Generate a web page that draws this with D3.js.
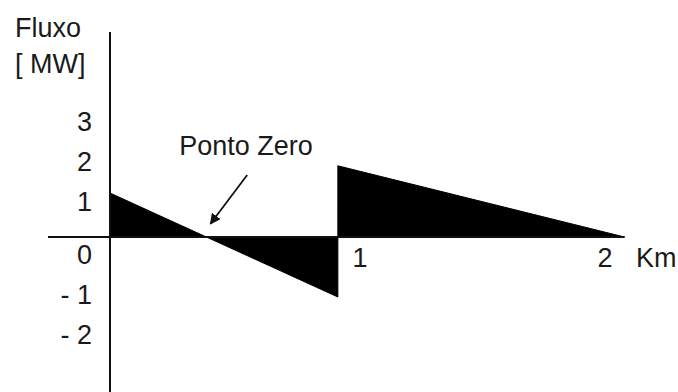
<!DOCTYPE html>
<html>
<head>
<meta charset="utf-8">
<script src="https://cdn.jsdelivr.net/npm/d3@7"></script>
<style>
  body { margin: 0; background: #fff; }
  svg text { font-family: "Liberation Sans", Arial, sans-serif; font-size: 27px; fill: #1a1a1a; }
</style>
</head>
<body>
<svg width="678" height="392"></svg>
<script>
// flow profile along the line (km, MW)
const segA = [[0, 1.1], [0.93, -1.5]];
const segB = [[0.93, 1.78], [2.1, 0]];

const yTicks = [3, 2, 1, 0, -1, -2];
const yTickLabels = ["3", "2", "1", "0", "- 1", "- 2"];
const xTicks = [1, 2];
const xTickLabels = ["1", "2"];

const zeroPoint = [0.41, 0.33];   // where the arrow points
const zeroLabelAt = [0.56, 1.55]; // arrow tail

const svg = d3.select('svg');

const x = d3.scaleLinear().domain([0, 2]).range([110, 600]);
const y = d3.scaleLinear().domain([0, 1]).range([237, 197]);

// filled areas between the flow line and the axis
const area = d3.area()
    .x(d => x(d[0]))
    .y0(y(0))
    .y1(d => y(d[1]));

svg.selectAll('path.flow')
    .data([segA, segB])
    .enter()
    .append('path')
    .attr('class', 'flow')
    .attr('d', area)
    .attr('fill', '#000')
    .attr('stroke', '#000')
    .attr('stroke-width', 1);

// axes
svg.append('line')
    .attr('x1', 48).attr('x2', x(2.1))
    .attr('y1', y(0)).attr('y2', y(0))
    .attr('stroke', '#111').attr('stroke-width', 2);

svg.append('line')
    .attr('x1', x(0)).attr('x2', x(0))
    .attr('y1', 32).attr('y2', 392)
    .attr('stroke', '#111').attr('stroke-width', 2);

// y tick labels (non-positive ones sit below their value)
svg.selectAll('text.ytick')
    .data(yTicks)
    .enter()
    .append('text')
    .attr('class', 'ytick')
    .attr('x', 92)
    .attr('y', d => y(d) + (d > 0 ? 5 : 18))
    .attr('dy', '0.35em')
    .attr('text-anchor', 'end')
    .text((d, i) => yTickLabels[i]);

svg.selectAll('text.xtick')
    .data(xTicks)
    .enter()
    .append('text')
    .attr('class', 'xtick')
    .attr('x', d => x(d) + 5)
    .attr('y', y(0) + 21)
    .attr('dy', '0.35em')
    .attr('text-anchor', 'middle')
    .text((d, i) => xTickLabels[i]);

svg.append('text')
    .attr('x', 636)
    .attr('y', y(0) + 21)
    .attr('dy', '0.35em')
    .text('Km');

svg.append('text').attr('x', 15).attr('y', 37).text('Fluxo');
svg.append('text').attr('x', 15).attr('y', 73).text('[ MW]');

// "Ponto Zero" annotation
svg.append('defs').append('marker')
    .attr('id', 'head')
    .attr('viewBox', '0 0 10 10')
    .attr('refX', 9).attr('refY', 5)
    .attr('markerWidth', 6).attr('markerHeight', 6)
    .attr('markerUnits', 'strokeWidth')
    .attr('orient', 'auto')
    .append('path')
    .attr('d', 'M0,0 L10,5 L0,10 Z')
    .attr('fill', '#111');

svg.append('line')
    .attr('x1', x(zeroLabelAt[0])).attr('y1', y(zeroLabelAt[1]))
    .attr('x2', x(zeroPoint[0])).attr('y2', y(zeroPoint[1]))
    .attr('stroke', '#111').attr('stroke-width', 1.8)
    .attr('marker-end', 'url(#head)');

svg.append('text')
    .attr('x', 246)
    .attr('y', 155)
    .attr('text-anchor', 'middle')
    .text('Ponto Zero');
</script>
</body>
</html>
